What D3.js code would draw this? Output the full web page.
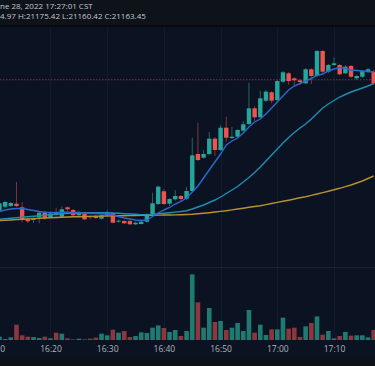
<!DOCTYPE html>
<html>
<head>
<meta charset="utf-8">
<script src="https://cdn.jsdelivr.net/npm/d3@7"></script>
<style>
  html, body { margin: 0; padding: 0; background: #0b1322; overflow: hidden; }
  svg { display: block; }
</style>
</head>
<body>
<svg id="chart" width="375" height="366"></svg>
<script>
// ---------- DATA ----------
const times = ["16:11","16:12","16:13","16:14","16:15","16:16","16:17","16:18","16:19","16:20",
  "16:21","16:22","16:23","16:24","16:25","16:26","16:27","16:28","16:29","16:30",
  "16:31","16:32","16:33","16:34","16:35","16:36","16:37","16:38","16:39","16:40",
  "16:41","16:42","16:43","16:44","16:45","16:46","16:47","16:48","16:49","16:50",
  "16:51","16:52","16:53","16:54","16:55","16:56","16:57","16:58","16:59","17:00",
  "17:01","17:02","17:03","17:04","17:05","17:06","17:07","17:08","17:09","17:10",
  "17:11","17:12","17:13","17:14","17:15","17:16","17:17"];
const open = [20901.6,20909.6,20911.0,20915.6,20908.4,20884.4,20883.0,20888.4,20897.6,20888.4,
  20897.0,20889.6,20908.4,20903.0,20892.4,20895.0,20891.0,20891.0,20885.6,20892.4,
  20896.4,20879.6,20881.0,20881.0,20874.4,20875.0,20879.6,20892.4,20915.0,20940.4,
  20915.6,20924.4,20931.0,20925.6,20941.0,21015.0,21007.6,21015.0,21045.6,21023.0,
  21067.6,21047.0,21049.6,21061.6,21075.0,21106.4,21088.4,21121.6,21138.4,21123.0,
  21159.6,21176.4,21166.4,21162.4,21156.4,21184.4,21171.0,21221.0,21179.6,21193.0,
  21193.0,21176.4,21191.0,21166.4,21169.6,21179.6,21179.6];
const high = [20919.0,20921.0,20919.0,20959.0,20919.0,20887.0,20891.0,20901.0,20901.6,20899.6,
  20907.6,20910.4,20910.0,20905.0,20901.6,20897.0,20893.0,20893.0,20894.0,20902.4,
  20898.0,20884.0,20883.0,20884.0,20880.0,20882.0,20897.0,20937.6,20951.6,20944.4,
  20927.0,20943.0,20933.0,20949.0,21047.6,21077.6,21023.0,21059.0,21049.0,21072.4,
  21089.6,21069.0,21065.0,21081.0,21157.6,21111.0,21141.6,21143.0,21141.0,21163.0,
  21181.0,21179.0,21169.0,21165.0,21187.0,21187.0,21223.0,21223.0,21195.0,21208.4,
  21195.0,21193.0,21193.0,21173.0,21183.0,21187.0,21183.0];
const low = [20899.0,20907.0,20909.0,20909.0,20878.4,20877.0,20877.0,20876.4,20883.0,20887.0,
  20889.6,20888.0,20901.6,20891.0,20891.0,20883.0,20884.4,20885.0,20884.0,20891.0,
  20876.4,20878.0,20875.0,20873.0,20873.0,20874.0,20878.0,20891.0,20913.0,20913.0,
  20911.0,20922.0,20919.0,20923.0,20937.0,21001.0,21006.0,21013.0,21011.0,21021.0,
  21039.6,21045.0,21048.0,21060.0,21073.0,21081.0,21087.0,21119.0,21116.4,21119.0,
  21157.0,21153.0,21151.0,21153.0,21155.0,21155.0,21169.0,21177.0,21177.0,21191.0,
  21173.0,21175.0,21167.0,21163.0,21167.0,21177.0,21153.0];
const close = [20916.4,20919.0,20917.0,20911.0,20884.4,20880.4,20885.6,20897.6,20887.0,20896.4,
  20893.6,20904.4,20904.4,20892.4,20898.4,20884.4,20888.4,20887.0,20892.4,20896.4,
  20877.6,20881.6,20876.4,20874.4,20877.6,20879.6,20893.6,20916.4,20949.6,20915.0,
  20925.0,20931.0,20925.0,20941.0,21012.4,21003.0,21015.0,21045.6,21023.0,21067.6,
  21047.6,21049.6,21063.0,21074.4,21106.4,21088.4,21126.4,21139.6,21121.6,21161.0,
  21178.4,21161.0,21162.4,21159.0,21184.4,21171.0,21221.0,21179.6,21193.0,21196.4,
  21174.4,21189.6,21169.6,21171.0,21181.0,21184.4,21156.4];
const volume = [5.0,1.5,4.0,23.0,7.0,5.0,4.5,3.0,5.0,2.5,
  11.0,9.5,2.5,1.0,2.0,1.0,2.0,3.5,9.5,7.0,
  15.5,11.0,13.5,4.5,6.0,11.5,10.5,18.5,22.0,18.0,
  12.0,15.0,6.0,13.5,98.5,56.5,18.5,48.0,27.0,28.5,
  15.0,18.5,25.5,13.5,45.0,11.0,23.0,7.5,16.0,16.0,
  33.5,17.0,18.5,4.5,20.5,25.5,35.5,8.0,13.5,2.5,
  6.0,12.0,6.5,7.0,7.0,4.0,15.0];
const maFast = [20900,20903,20905,20906,20906,20904,20902,20900,20898.4,20898,
  20898,20898.4,20898.4,20898,20898,20897,20896.4,20896,20895.4,20894.4,
  20893,20890,20887,20885,20883,20882,20883,20890,20897,20903,
  20908,20915,20920,20927,20939,20951,20967,20983,20999,21015,
  21033,21041,21047,21057,21069,21079,21085,21095,21107,21119,
  21131,21143,21151,21156,21161,21166,21172,21175,21181,21185,
  21188,21186,21183,21182,21181,21180,21179];
const maMid = [20884.4,20885.4,20886.4,20887.4,20888.4,20889.4,20890.6,20891.6,20892.6,20893.6,
  20894.6,20895.4,20896.2,20896.6,20897,20897.4,20897.6,20897.6,20897.6,20897.4,
  20897,20896.4,20895.6,20895,20894.4,20893.8,20893.4,20894,20895.4,20896.6,
  20897.6,20898.8,20900,20901.6,20905,20909,20913,20918,20923,20929,
  20936,20943,20950,20959,20968,20978,20989,21001,21013,21025,
  21037,21048,21058,21067,21075,21085,21096,21107,21115,21122,
  21129,21134,21139,21143,21147,21151,21156];
const maSlow = [20881.6,20882.4,20883,20883.8,20884.4,20885,20885.8,20886.4,20887,20887.6,
  20888,20888.6,20889,20889.4,20889.6,20890,20890.2,20890.6,20890.8,20891,
  20891.2,20891.4,20891.6,20891.8,20892,20892.2,20892.4,20892.6,20892.8,20893,
  20893,20893.2,20893.6,20894,20894.4,20895.4,20896.4,20897.6,20899,20900.2,
  20901.6,20903.2,20905,20906.6,20908.4,20910,20911.6,20913.8,20916,20918.2,
  20920.4,20922.6,20925,20927.4,20929.6,20932.2,20935,20937.8,20940.6,20943.4,
  20946.4,20949.8,20953,20957,20961,20966,20971];
const lastPrice = 21163.45;
const headerLine1 = "June 28, 2022 17:27:01 CST";
const headerLine2 = "O:21164.97 H:21175.42 L:21160.42 C:21163.45";
const headerHidden1 = "Ju";
const headerHidden2 = "O:2116";
const timeDomain = ["16:10", "17:20"];

// ---------- CHART ----------
const W = 375, H = 366;
const paneTop = 27, volTop = 267, axisY = 340, footerY = 358;
const svg = d3.select("#chart");
const parse = d3.utcParse("%H:%M");
const rows = times.map((t, i) => ({
  t: parse(t), o: open[i], h: high[i], l: low[i], c: close[i], v: volume[i],
  f: maFast[i], m: maMid[i], s: maSlow[i]
}));

const x = d3.scaleUtc().domain(timeDomain.map(parse)).range([-6.2, 390.7]);
const y = d3.scaleLinear().domain([20800, 21280]).range([261.5, 21.5]);
const yv = d3.scaleLinear().domain([0, 109.5]).range([axisY, volTop]);

const UP = "#26a69a", DOWN = "#ef5350";
const UP_WICK = "#23665f", DOWN_WICK = "#80343b";
const UP_VOL = "#1f7b72", DOWN_VOL = "#8c3740";

// backgrounds
svg.append("rect").attr("width", W).attr("height", H).attr("fill", "#0b1322");
svg.append("rect").attr("width", W).attr("height", paneTop).attr("fill", "#0e1219");
svg.append("rect").attr("y", paneTop - 2).attr("width", W).attr("height", 2).attr("fill", "#07090d");
svg.append("rect").attr("y", footerY).attr("width", W).attr("height", H - footerY).attr("fill", "#0e1116");

const defs = svg.append("defs");
defs.append("clipPath").attr("id", "clipPrice").append("rect")
  .attr("x", 0).attr("y", paneTop).attr("width", W).attr("height", volTop - paneTop);
defs.append("clipPath").attr("id", "clipVol").append("rect")
  .attr("x", 0).attr("y", volTop).attr("width", W).attr("height", axisY - volTop);

// vertical grid
const ticks = x.ticks(d3.utcMinute.every(10));
svg.append("g").selectAll("line").data(ticks).join("line")
  .attr("x1", d => Math.round(x(d)) + 0.5).attr("x2", d => Math.round(x(d)) + 0.5)
  .attr("y1", paneTop).attr("y2", axisY)
  .attr("stroke", "#131c2c").attr("stroke-width", 1);

// pane separator
svg.append("line").attr("x1", 0).attr("x2", W).attr("y1", volTop + 0.5).attr("y2", volTop + 0.5)
  .attr("stroke", "#1a2232").attr("stroke-width", 1);

// price line
svg.append("line").attr("x1", 0).attr("x2", W)
  .attr("y1", y(lastPrice)).attr("y2", y(lastPrice))
  .attr("stroke", "#7a3340").attr("stroke-width", 1).attr("stroke-dasharray", "1.5,1.5");

// volume
const bw = 4.6;
svg.append("g").attr("clip-path", "url(#clipVol)").selectAll("rect").data(rows).join("rect")
  .attr("x", d => x(d.t) - bw / 2).attr("width", bw)
  .attr("y", d => yv(d.v)).attr("height", d => axisY - yv(d.v))
  .attr("fill", d => d.c >= d.o ? UP_VOL : DOWN_VOL);

// candles
const gc = svg.append("g").attr("clip-path", "url(#clipPrice)");
gc.selectAll("line").data(rows).join("line")
  .attr("x1", d => x(d.t)).attr("x2", d => x(d.t))
  .attr("y1", d => y(d.h)).attr("y2", d => y(d.l))
  .attr("stroke", d => d.c >= d.o ? UP_WICK : DOWN_WICK).attr("stroke-width", 1);
gc.selectAll("rect").data(rows).join("rect")
  .attr("x", d => x(d.t) - 2.2).attr("width", 4.4)
  .attr("y", d => y(Math.max(d.o, d.c)))
  .attr("height", d => Math.max(1, Math.abs(y(d.o) - y(d.c))))
  .attr("fill", d => d.c >= d.o ? UP : DOWN);

// moving averages
const lines = [
  { key: "s", color: "#b8902e" },
  { key: "m", color: "#1f8db3" },
  { key: "f", color: "#2a68d0" }
];
lines.forEach(L => {
  gc.append("path").datum(rows)
    .attr("fill", "none").attr("stroke", L.color).attr("stroke-width", 1.4)
    .attr("d", d3.line().x(d => x(d.t)).y(d => y(d[L.key])));
});

// time axis
const axis = svg.append("g").attr("transform", `translate(0,${axisY})`)
  .call(d3.axisBottom(x).ticks(d3.utcMinute.every(10)).tickFormat(d3.utcFormat("%H:%M"))
    .tickSize(0).tickPadding(6));
axis.select(".domain").remove();
axis.selectAll("text").attr("fill", "#b0b4bd")
  .attr("font-family", "'Open Sans', 'Noto Sans', sans-serif").attr("font-size", "8.5px");

// header text (clipped at left edge like the source)
const hdr = svg.append("g").attr("font-family", "'Open Sans', 'Noto Sans', sans-serif")
  .attr("font-size", "8px").attr("fill", "#c3c7cf");
function hiddenWidth(s) {
  const t = hdr.append("text").text(s);
  const w = t.node().getComputedTextLength();
  t.remove();
  return w;
}
hdr.append("text").attr("x", -hiddenWidth(headerHidden1)).attr("y", 9.4).text(headerLine1);
hdr.append("text").attr("x", -hiddenWidth(headerHidden2)).attr("y", 19.1).text(headerLine2);
</script>
</body>
</html>
